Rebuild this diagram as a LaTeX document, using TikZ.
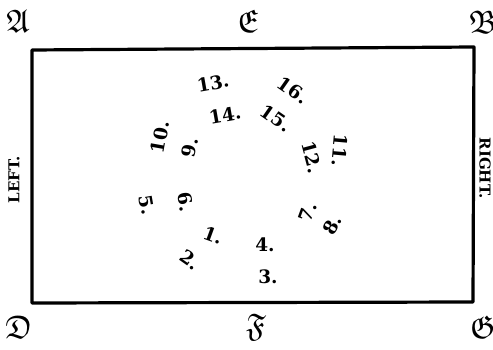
\documentclass[tikz,border=0pt]{standalone}
\usepackage{amsmath, amssymb}
\usepackage{fontspec}
\usepackage{xcolor}
\usepackage{tikz}
\newfontfamily\platefont{DejaVu Serif}

\begin{document}
\begin{tikzpicture}[x=1pt,y=-1pt]
\tikzset{num/.style={font=\platefont\bfseries\fontsize{18.5}{18.5}\selectfont,inner sep=0pt},
         corner/.style={font=\fontsize{25}{25}\selectfont,inner sep=0pt,scale=1.3},
         side/.style={font=\platefont\bfseries\fontsize{15}{15}\selectfont,inner sep=0pt},
         frame/.style={line width=3.2pt,line join=round,line cap=round}}
\useasboundingbox (0,0) rectangle (493,350);
% Frame
\coordinate (tl) at (32,50);
\coordinate (tr) at (474,47);
\coordinate (br) at (473,302);
\coordinate (bl) at (32,303);
\draw[frame] (tl)--(tr)--(br)--(bl)--cycle;
% Corner and side letters
\node[corner] (A) at (18,21) {$\mathfrak{A}$};
\node[corner] (E) at (248,21) {$\mathfrak{E}$};
\node[corner] (B) at (483,22) {$\mathfrak{B}$};
\node[corner] (D) at (19,327) {$\mathfrak{D}$};
\node[corner] (F) at (256,327) {$\mathfrak{F}$};
\node[corner] (G) at (483,327) {$\mathfrak{G}$};
% Left and right
\node[side,rotate=90] (left) at (14,180) {LEFT.};
\node[side,rotate=-90] (right) at (485,168) {RIGHT.};
% Numbered places
\node[num,rotate=10]  (n13) at (213,83)  {13.};
\node[num,rotate=-35] (n16) at (293,90)  {16.};
\node[num,rotate=10]  (n14) at (225,115) {14.};
\node[num,rotate=-35] (n15) at (276,118) {15.};
\node[num,rotate=80]  (n10) at (160,137) {10.};
\node[num,rotate=80]  (n9)  at (190,148) {9.};
\node[num,rotate=-95] (n11) at (340,150) {11.};
\node[num,rotate=-75] (n12) at (312,157) {12.};
\node[num,rotate=-80] (n5)  at (147,205) {5.};
\node[num,rotate=-80] (n6)  at (186,202) {6.};
\node[num,rotate=70]  (n7)  at (308,212) {7.};
\node[num,rotate=60]  (n8)  at (332,225) {8.};
\node[num,rotate=-20] (n1)  at (213,235) {1.};
\node[num]            (n4)  at (265,245) {4.};
\node[num,rotate=-35] (n2)  at (190,260) {2.};
\node[num]            (n3)  at (268,277) {3.};
\end{tikzpicture}
\end{document}
